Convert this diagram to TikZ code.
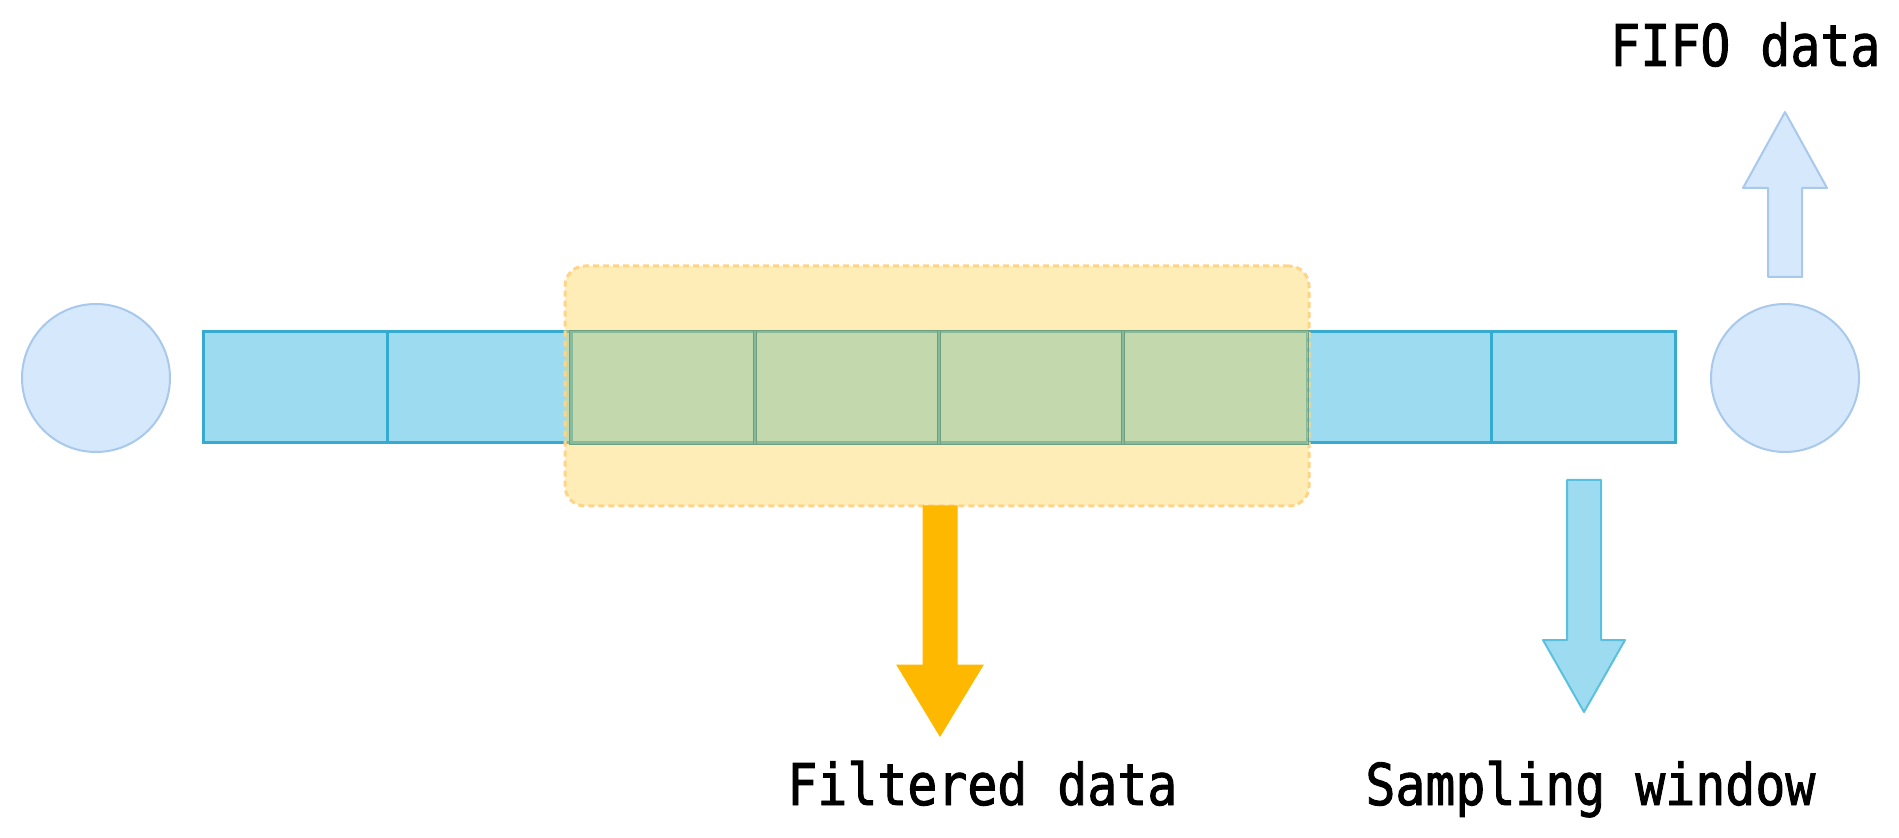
\documentclass[tikz,border=0pt]{standalone}
\usepackage{fontspec}
\newfontfamily\lblfont[FakeStretch=0.865,FakeBold=1.6]{DejaVu Sans Mono}
\definecolor{cellfill}{RGB}{157,220,240}
\definecolor{cellline}{RGB}{55,170,208}
\definecolor{overline}{RGB}{110,158,125}
\definecolor{circfill}{RGB}{213,232,252}
\definecolor{circline}{RGB}{168,200,236}
\definecolor{winfill}{RGB}{255,210,77}
\definecolor{winline}{RGB}{255,212,135}
\definecolor{orangearrow}{RGB}{255,184,0}
\definecolor{bluearrowline}{RGB}{91,192,222}
\begin{document}
\begin{tikzpicture}[x=0.5pt,y=-0.5pt,
  cellbox/.style={rectangle, draw=cellline, fill=cellfill, line width=1.5pt,
    minimum width=92pt, minimum height=55.5pt, inner sep=0pt},
  endcircle/.style={circle, draw=circline, fill=circfill, line width=1pt,
    minimum size=74pt, inner sep=0pt},
  winbox/.style={rectangle, rounded corners=10pt, minimum width=372pt,
    minimum height=120pt, inner sep=0pt, draw=winline, line width=1.5pt,
    dash pattern=on 3pt off 2pt, fill=winfill, fill opacity=0.4},
  coveredline/.style={draw=overline, line width=0.8pt},
  lbltext/.style={font=\lblfont\fontsize{28.8}{30}\selectfont, text=black,
    inner sep=0pt, anchor=base west},
  fifoarrow/.style={draw=circline, fill=circfill, line width=1pt, line join=round},
  filtarrow/.style={draw=orangearrow, fill=orangearrow, line width=0.5pt},
  samparrow/.style={draw=bluearrowline, fill=cellfill, line width=1pt, line join=round}
]
\useasboundingbox (0,0) rectangle (1899,838);
% buffer cells
\foreach \i in {0,...,7}
  \node[cellbox] (c\i) at ({295+184*\i},387.5) {};
% end circles
\node[endcircle] (inl) at (96,378) {};
\node[endcircle] (outr) at (1785,378) {};
% filter window
\node[winbox] (win) at (937,386) {};
% cell outlines seen through the window
\foreach \i in {2,...,5}
  \draw[coveredline] (c\i.north west) rectangle (c\i.south east);
% arrows
\draw[filtarrow] (923,506) -- (923,665) -- (897,665) -- (940,736) -- (983,665) -- (957,665) -- (957,506) -- cycle;
\draw[fifoarrow] (1768,277) -- (1768,188) -- (1743,188) -- (1785,112) -- (1827,188) -- (1802,188) -- (1802,277) -- cycle;
\draw[samparrow] (1567,480) -- (1567,640) -- (1543,640) -- (1584,712) -- (1625,640) -- (1601,640) -- (1601,480) -- cycle;
% labels
\node[lbltext] (fifo) at (1610,66) {FIFO data};
\node[lbltext] (filt) at (787,805) {Filtered data};
\node[lbltext] (samp) at (1365,805) {Sampling window};
\end{tikzpicture}
\end{document}
